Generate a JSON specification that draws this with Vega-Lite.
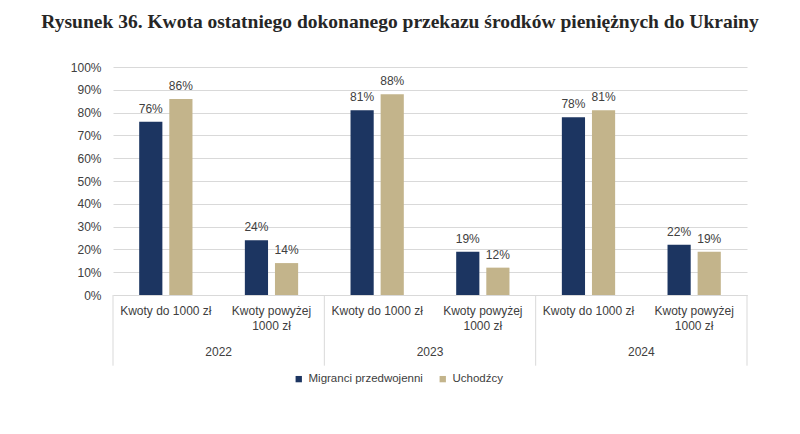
{
  "$schema": "https://vega.github.io/schema/vega-lite/v6.json",
  "width": 634,
  "height": 228,
  "autosize": {"type": "none"},
  "padding": {"left": 113, "top": 67, "right": 53, "bottom": 139},
  "background": "white",
  "title": {
    "text": "Rysunek 36. Kwota ostatniego dokonanego przekazu środków pieniężnych do Ukrainy",
    "font": "Liberation Serif",
    "fontSize": 19.5,
    "fontWeight": "bold",
    "color": "#262626",
    "anchor": "middle",
    "dx": -30,
    "offset": 29
  },
  "config": {
    "view": {"stroke": null},
    "font": "Liberation Sans",
    "axisY": {
      "title": null,
      "format": ".0%",
      "labelOverlap": false,
      "domain": false,
      "ticks": false,
      "gridColor": "#d9d9d9",
      "labelFontSize": 12,
      "labelColor": "#404040",
      "labelPadding": 12
    }
  },
  "datasets": {
    "bars": [
      {"key": "2022|Kwoty do 1000 zł", "series": "Migranci przedwojenni", "value": 0.76},
      {"key": "2022|Kwoty do 1000 zł", "series": "Uchodźcy", "value": 0.86},
      {"key": "2022|Kwoty powyżej|1000 zł", "series": "Migranci przedwojenni", "value": 0.24},
      {"key": "2022|Kwoty powyżej|1000 zł", "series": "Uchodźcy", "value": 0.14},
      {"key": "2023|Kwoty do 1000 zł", "series": "Migranci przedwojenni", "value": 0.81},
      {"key": "2023|Kwoty do 1000 zł", "series": "Uchodźcy", "value": 0.88},
      {"key": "2023|Kwoty powyżej|1000 zł", "series": "Migranci przedwojenni", "value": 0.19},
      {"key": "2023|Kwoty powyżej|1000 zł", "series": "Uchodźcy", "value": 0.12},
      {"key": "2024|Kwoty do 1000 zł", "series": "Migranci przedwojenni", "value": 0.78},
      {"key": "2024|Kwoty do 1000 zł", "series": "Uchodźcy", "value": 0.81},
      {"key": "2024|Kwoty powyżej|1000 zł", "series": "Migranci przedwojenni", "value": 0.22},
      {"key": "2024|Kwoty powyżej|1000 zł", "series": "Uchodźcy", "value": 0.19}
    ],
    "years": [
      {"key": "2022|Kwoty powyżej|1000 zł", "year": "2022"},
      {"key": "2023|Kwoty powyżej|1000 zł", "year": "2023"},
      {"key": "2024|Kwoty powyżej|1000 zł", "year": "2024"}
    ],
    "seps": [
      {"key": "2022|Kwoty do 1000 zł"},
      {"key": "2023|Kwoty do 1000 zł"},
      {"key": "2024|Kwoty do 1000 zł"}
    ],
    "sepEnd": [
      {"key": "2024|Kwoty powyżej|1000 zł"}
    ]
  },
  "layer": [
    {
      "data": {"name": "bars"},
      "mark": {"type": "bar"},
      "encoding": {
        "x": {
          "field": "key",
          "type": "nominal",
          "scale": {
            "domain": ["2022|Kwoty do 1000 zł", "2022|Kwoty powyżej|1000 zł", "2023|Kwoty do 1000 zł", "2023|Kwoty powyżej|1000 zł", "2024|Kwoty do 1000 zł", "2024|Kwoty powyżej|1000 zł"],
            "paddingInner": 0,
            "paddingOuter": 0
          },
          "axis": {
            "title": null,
            "labelExpr": "slice(split(datum.value, '|'), 1)",
            "labelAngle": 0,
            "ticks": false,
            "domainColor": "#d9d9d9",
            "labelFontSize": 12,
            "labelColor": "#404040",
            "labelLineHeight": 15,
            "labelPadding": 10
          }
        },
        "xOffset": {
          "field": "series",
          "type": "nominal",
          "scale": {"domain": ["Migranci przedwojenni", "Uchodźcy"], "paddingInner": 0.23, "paddingOuter": 0.87}
        },
        "y": {
          "field": "value",
          "type": "quantitative",
          "scale": {"domain": [0, 1], "nice": false},
          "axis": {"values": [0, 0.1, 0.2, 0.3, 0.4, 0.5, 0.6, 0.7, 0.8, 0.9, 1]}
        },
        "color": {
          "field": "series",
          "type": "nominal",
          "scale": {"domain": ["Migranci przedwojenni", "Uchodźcy"], "range": ["#1c3561", "#c3b48b"]},
          "legend": {
            "title": null,
            "orient": "none",
            "direction": "horizontal",
            "legendX": 180,
            "legendY": 306,
            "symbolType": "square",
            "symbolSize": 40,
            "labelFontSize": 11.5,
            "labelColor": "#404040",
            "columnPadding": 14,
            "labelOffset": 4
          }
        }
      }
    },
    {
      "data": {"name": "bars"},
      "mark": {"type": "text", "baseline": "bottom", "dy": -6, "fontSize": 12, "color": "#404040"},
      "encoding": {
        "x": {"field": "key", "type": "nominal"},
        "xOffset": {"field": "series", "type": "nominal"},
        "y": {"field": "value", "type": "quantitative", "axis": {"values": [0, 0.1, 0.2, 0.3, 0.4, 0.5, 0.6, 0.7, 0.8, 0.9, 1]}},
        "text": {"field": "value", "type": "quantitative", "format": ".0%"}
      }
    },
    {
      "data": {"name": "years"},
      "mark": {"type": "text", "baseline": "middle", "fontSize": 12, "color": "#404040"},
      "encoding": {
        "x": {"field": "key", "type": "nominal", "bandPosition": 0},
        "y": {"datum": -0.25, "type": "quantitative", "axis": {"values": [0, 0.1, 0.2, 0.3, 0.4, 0.5, 0.6, 0.7, 0.8, 0.9, 1]}},
        "text": {"field": "year"}
      }
    },
    {
      "data": {"name": "seps"},
      "mark": {"type": "rule", "color": "#d9d9d9"},
      "encoding": {
        "x": {"field": "key", "type": "nominal", "bandPosition": 0},
        "y": {"datum": 0, "type": "quantitative", "axis": {"values": [0, 0.1, 0.2, 0.3, 0.4, 0.5, 0.6, 0.7, 0.8, 0.9, 1]}},
        "y2": {"datum": -0.31}
      }
    },
    {
      "data": {"name": "sepEnd"},
      "mark": {"type": "rule", "color": "#d9d9d9"},
      "encoding": {
        "x": {"field": "key", "type": "nominal", "bandPosition": 1},
        "y": {"datum": 0, "type": "quantitative", "axis": {"values": [0, 0.1, 0.2, 0.3, 0.4, 0.5, 0.6, 0.7, 0.8, 0.9, 1]}},
        "y2": {"datum": -0.31}
      }
    }
  ]
}
